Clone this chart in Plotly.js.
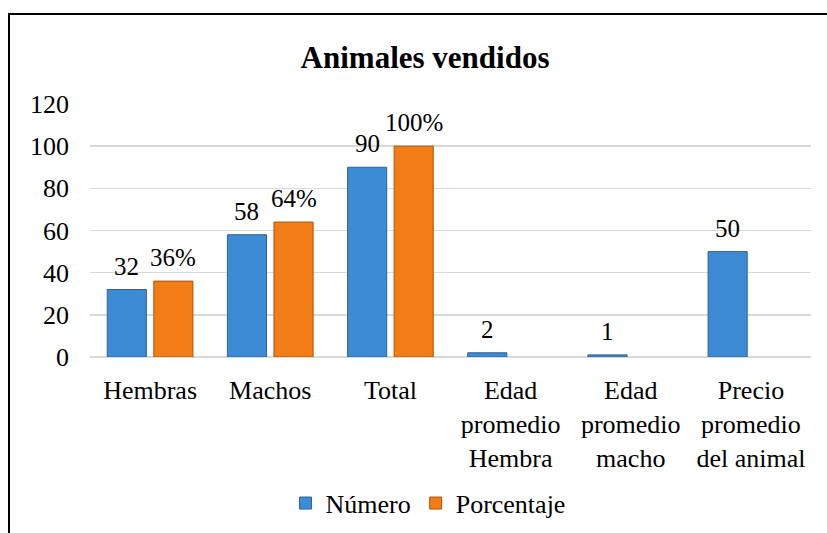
<!DOCTYPE html>
<html>
<head>
<meta charset="utf-8">
<script src="https://cdn.plot.ly/plotly-3.0.1.min.js"></script>
<style>
  html, body { margin: 0; padding: 0; background: #fff; }
  #wrap { position: relative; width: 827px; height: 533px; overflow: hidden; }
  #chart { position: absolute; left: 0; top: 0; width: 827px; height: 533px; }
  #frame { position: absolute; left: 8px; top: 13px; width: 840px; height: 600px;
           border-left: 2px solid #000; border-top: 2px solid #000; pointer-events: none; }
</style>
</head>
<body>
<div id="wrap">
  <div id="chart"></div>
  <div id="frame"></div>
</div>
<script>
const categories = ['Hembras', 'Machos', 'Total', 'Edad promedio Hembra', 'Edad promedio macho', 'Precio promedio del animal'];
const tickLabels = ['Hembras', 'Machos', 'Total', 'Edad<br>promedio<br>Hembra', 'Edad<br>promedio<br>macho', 'Precio<br>promedio<br>del animal'];
const numero = [32, 58, 90, 2, 1, 50];
const porcentaje = [36, 64, 100, null, null, null];
const numeroLabels = ['32', '58', '90', '2', '1', '50'];
const porcentajeLabels = ['36%', '64%', '100%', '', '', ''];

const FONT = 'Liberation Serif';
const bargap = 0.225;
const half = (1 - bargap) / 4;   // offset of each bar centre from category centre

const traces = [
  { type: 'bar', name: 'Número', x: categories, y: numero,
    marker: { color: '#3d8bd5', line: { color: '#2b6397', width: 1 } }, hoverinfo: 'skip' },
  { type: 'bar', name: 'Porcentaje', x: categories, y: porcentaje,
    marker: { color: '#f27c16', line: { color: '#a9540c', width: 1 } }, hoverinfo: 'skip' }
];

const annotations = [];
categories.forEach((c, i) => {
  if (numero[i] != null) annotations.push({ x: i - half, y: numero[i], xref: 'x', yref: 'y', text: numeroLabels[i],
    showarrow: false, yanchor: 'bottom', yshift: 8, font: { family: FONT, size: 25, color: '#000' } });
  if (porcentaje[i] != null) annotations.push({ x: i + half, y: porcentaje[i], xref: 'x', yref: 'y', text: porcentajeLabels[i],
    showarrow: false, yanchor: 'bottom', yshift: 8, font: { family: FONT, size: 25, color: '#000' } });
});

const layout = {
  width: 827, height: 533,
  margin: { l: 90, r: 16, t: 104, b: 176 },
  paper_bgcolor: 'rgba(0,0,0,0)', plot_bgcolor: '#fff',
  font: { family: FONT, size: 26, color: '#000' },
  title: { text: '<b>Animales vendidos</b>', font: { family: FONT, size: 31, color: '#000' },
           x: 0.514, xref: 'container', xanchor: 'center', y: 0.893, yref: 'container', yanchor: 'middle' },
  barmode: 'group', bargap: bargap, bargroupgap: 0.16,
  xaxis: { type: 'category', tickvals: categories, ticktext: tickLabels, showgrid: false, ticks: '',
           showline: false, automargin: false, ticklabelstandoff: 15, tickfont: { family: FONT, size: 26 }, fixedrange: true },
  yaxis: { range: [0, 120], dtick: 20, showgrid: true, gridcolor: '#d9d9d9', gridwidth: 1.5, automargin: false,
           zeroline: true, zerolinecolor: '#d9d9d9', zerolinewidth: 2, ticks: '', showline: false,
           ticklabelstandoff: 20, tickfont: { family: FONT, size: 26 }, fixedrange: true },
  showlegend: true,
  legend: { orientation: 'h', xref: 'container', x: 0.5175, xanchor: 'center',
            yref: 'container', y: 0.056, yanchor: 'middle',
            font: { family: FONT, size: 26 }, itemwidth: 30, tracegroupgap: 0, bgcolor: 'rgba(0,0,0,0)' },
  annotations: annotations
};

Plotly.newPlot('chart', traces, layout, { displayModeBar: false, staticPlot: true });
</script>
</body>
</html>
